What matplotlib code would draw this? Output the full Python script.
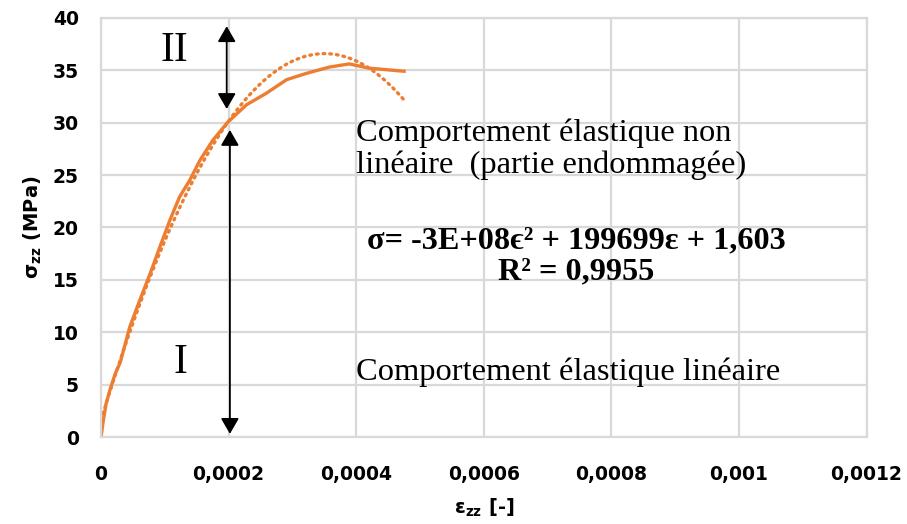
import numpy as np
import matplotlib
matplotlib.use("Agg")
import matplotlib.pyplot as plt

# Courbe contrainte-déformation (essai de compression)
eps = [0, 0.0000036, 0.000008, 0.000014, 0.000022, 0.00003, 0.000045, 0.000061,
       0.000077, 0.000092, 0.000108, 0.000123, 0.000139, 0.000155, 0.000175,
       0.000198, 0.000228, 0.000259, 0.000291, 0.000322, 0.000358, 0.000389,
       0.00042, 0.000475]
sigma = [0, 1.6, 3.2, 4.5, 6.0, 7.1, 10.5, 13.1, 15.6, 18.1, 20.7, 22.9, 24.5,
         26.4, 28.3, 30.0, 31.7, 32.8, 34.1, 34.7, 35.3, 35.6, 35.2, 34.9]

# Courbe de tendance polynomiale d'ordre 2
trend_coef = [-2.85e8, 199699, 1.603]

xticks = [0, 0.0002, 0.0004, 0.0006, 0.0008, 0.001, 0.0012]
xtick_labels = ["0", "0,0002", "0,0004", "0,0006", "0,0008", "0,001", "0,0012"]
yticks = [0, 5, 10, 15, 20, 25, 30, 35, 40]

orange = "#ED7D31"

plt.rcParams["mathtext.fontset"] = "custom"
plt.rcParams["mathtext.rm"] = "DejaVu Sans:bold"
plt.rcParams["mathtext.it"] = "DejaVu Sans:bold"
plt.rcParams["mathtext.bf"] = "DejaVu Sans:bold"

fig = plt.figure(figsize=(9.07, 5.24), dpi=100)
ax = fig.add_axes([0.1114, 0.166, 0.844, 0.8])

ex = np.linspace(0, max(eps), 200)
ax.plot(ex, np.polyval(trend_coef, ex), color=orange, lw=2.4,
        linestyle=(0, (0.5, 1.5)), dash_capstyle="round")
ax.plot(eps, sigma, color=orange, lw=2.4)

ax.set_xlim(0, 0.0012)
ax.set_ylim(0, 40)
ax.set_xticks(xticks)
ax.set_xticklabels(xtick_labels)
ax.set_yticks(yticks)
ax.grid(True, color="#d9d9d9", lw=1.6)
ax.set_axisbelow(True)
for s in ax.spines.values():
    s.set_color("#d9d9d9")
    s.set_linewidth(1.6)
ax.tick_params(length=0, labelsize=13.5, pad=16)
ax.tick_params(axis="x", pad=20)
for lab in ax.get_xticklabels() + ax.get_yticklabels():
    lab.set_fontweight("bold")

ax.set_xlabel(r"ε$_{zz}$ [-]", fontsize=14, fontweight="bold", labelpad=9)
ax.set_ylabel(r"σ$_{zz}$ (MPa)", fontsize=14, fontweight="bold", labelpad=6)

# Flèches des zones I et II
arrow = dict(arrowstyle="<|-|>,head_length=0.95,head_width=0.55", color="black",
             lw=1.3, mutation_scale=10, shrinkA=0, shrinkB=0)
ax.annotate("", xy=(0.000197, 39.2), xytext=(0.000197, 31.3), arrowprops=arrow)
ax.annotate("", xy=(0.000202, 29.3), xytext=(0.000202, 0.3), arrowprops=arrow)

serif = "Liberation Serif"
ax.text(0.0001156, 36.9, "II", family=serif, fontsize=30, ha="center", va="center")
ax.text(0.000125, 7.1, "I", family=serif, fontsize=30, ha="center", va="center")

ax.text(0.0004, 27.45, "Comportement élastique non\nlinéaire  (partie endommagée)",
        family=serif, fontsize=23.4, ha="left", va="center", linespacing=1.12)
ax.text(0.000745, 17.2, "σ= -3E+08ϵ² + 199699ε + 1,603\nR² = 0,9955",
        family=serif, fontsize=23.2, fontweight="bold", ha="center", va="center",
        linespacing=1.08)
ax.text(0.0004, 6.2, "Comportement élastique linéaire", family=serif,
        fontsize=23.4, ha="left", va="center")

fig.savefig("out.png", dpi=100)
